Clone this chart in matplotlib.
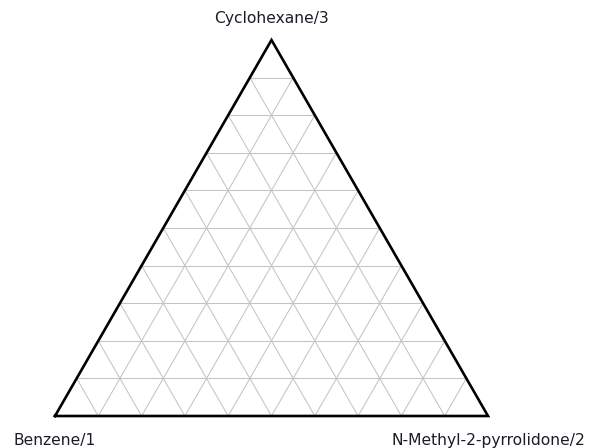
import numpy as np
import matplotlib
matplotlib.use("Agg")
import matplotlib.pyplot as plt

# Ternary components (vertex labels)
components = ["Benzene/1", "N-Methyl-2-pyrrolidone/2", "Cyclohexane/3"]
# Grid fractions
grid_fracs = [0.1, 0.2, 0.3, 0.4, 0.5, 0.6, 0.7, 0.8, 0.9]

# Layout: vertex positions in pixel space
V = np.array([[55.0, 416.0],   # component 1 (bottom-left)
              [488.0, 416.0],  # component 2 (bottom-right)
              [271.5, 40.0]])  # component 3 (top)

def tern(a, b, c):
    w = np.array([a, b, c], dtype=float)
    w = w / w.sum()
    return w @ V

fig = plt.figure(figsize=(5.9, 4.48), dpi=100)
ax = fig.add_axes([0, 0, 1, 1])
ax.set_xlim(0, 590)
ax.set_ylim(448, 0)
ax.axis("off")

grid_kw = dict(color="#c4c4c4", lw=0.75, zorder=1)
for f in grid_fracs:
    # constant component 3
    p, q = tern(1 - f, 0, f), tern(0, 1 - f, f)
    ax.plot([p[0], q[0]], [p[1], q[1]], **grid_kw)
    # constant component 1
    p, q = tern(f, 1 - f, 0), tern(f, 0, 1 - f)
    ax.plot([p[0], q[0]], [p[1], q[1]], **grid_kw)
    # constant component 2
    p, q = tern(1 - f, f, 0), tern(0, f, 1 - f)
    ax.plot([p[0], q[0]], [p[1], q[1]], **grid_kw)

tri = np.vstack([V, V[:1]])
ax.plot(tri[:, 0], tri[:, 1], color="black", lw=1.9, zorder=3,
        solid_joinstyle="miter")

fs = 11.2
tc = "#1c1c28"
ax.text(V[0, 0], 440, components[0], fontsize=fs, ha="center", va="center",
        family="DejaVu Sans", color=tc)
ax.text(V[1, 0], 440, components[1], fontsize=fs, ha="center", va="center",
        family="DejaVu Sans", color=tc)
ax.text(V[2, 0], 19, components[2], fontsize=fs, ha="center", va="center",
        family="DejaVu Sans", color=tc)

fig.savefig("out.png", dpi=100)
